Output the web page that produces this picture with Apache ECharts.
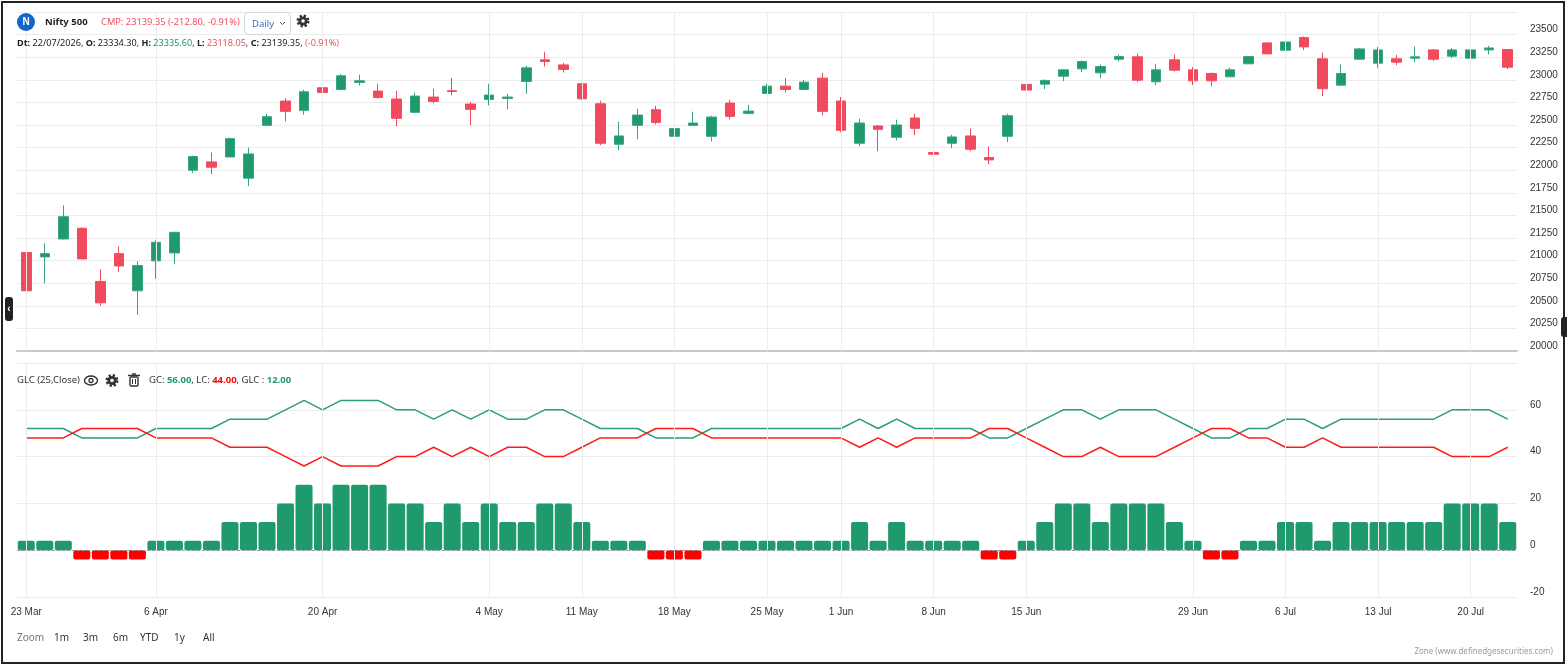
<!DOCTYPE html>
<html>
<head>
<meta charset="utf-8">
<script src="https://cdn.jsdelivr.net/npm/echarts@6/dist/echarts.min.js"></script>
<style>
html,body{margin:0;padding:0;background:#fff;}
#chart{width:1567px;height:666px;}
</style>
</head>
<body>
<div id="chart"></div>
<script>
// ---------- DATA ----------
const dates = ['23 Mar','24 Mar','25 Mar','27 Mar','30 Mar','1 Apr','2 Apr',
  '6 Apr','7 Apr','8 Apr','9 Apr','10 Apr','13 Apr','15 Apr','16 Apr','17 Apr',
  '20 Apr','21 Apr','22 Apr','23 Apr','24 Apr','27 Apr','28 Apr','29 Apr','30 Apr',
  '4 May','5 May','6 May','7 May','8 May','11 May','12 May','13 May','14 May','15 May',
  '18 May','19 May','20 May','21 May','22 May','25 May','26 May','28 May','29 May',
  '1 Jun','2 Jun','3 Jun','4 Jun','5 Jun','8 Jun','9 Jun','10 Jun','11 Jun','12 Jun',
  '15 Jun','16 Jun','17 Jun','18 Jun','19 Jun','22 Jun','23 Jun','24 Jun','25 Jun',
  '29 Jun','30 Jun','1 Jul','2 Jul','3 Jul','6 Jul','7 Jul','8 Jul','9 Jul','10 Jul',
  '13 Jul','14 Jul','15 Jul','16 Jul','17 Jul','20 Jul','21 Jul','22 Jul'];

const tickLabels = ['23 Mar','6 Apr','20 Apr','4 May','11 May','18 May','25 May',
  '1 Jun','8 Jun','15 Jun','29 Jun','6 Jul','13 Jul','20 Jul'];

const opens  = [21089,21041,21239,21357,20769,21077,20666,20997,21085,22000,22092,22147,21912,22496,22765,22662,22912,22893,22971,22875,22787,22640,22809,22879,22732,22783,22794,22982,23221,23165,22956,22735,22287,22496,22669,22375,22496,22375,22743,22629,22849,22930,22893,23018,22765,22298,22489,22364,22577,22195,22298,22379,22140,22375,22949,22952,23040,23121,23077,23228,23254,22978,23221,23110,23070,23033,23177,23408,23327,23467,23232,22941,23228,23184,23232,23239,23331,23261,23239,23331,23334.30];
const closes = [20666,21077,21486,21019,20533,20941,20945,21202,21313,22151,22033,22349,22180,22592,22651,22868,22860,23044,22989,22805,22574,22820,22761,22871,22673,22831,22809,23132,23202,23114,22790,22298,22379,22610,22529,22460,22522,22588,22596,22654,22930,22893,22974,22651,22441,22522,22452,22500,22463,22177,22368,22232,22114,22603,22886,22993,23110,23202,23147,23257,22996,23110,23107,22989,22989,23110,23257,23287,23419,23364,22901,23070,23342,23331,23195,23254,23228,23331,23331,23352.15,23139.35];
const lows   = [20622,20750,21235,21015,20500,20875,20401,20798,20964,21967,21956,22145,21824,22494,22540,22614,22717,22890,22938,22794,22485,22638,22739,22827,22496,22717,22673,22846,23147,23081,22779,22276,22221,22342,22507,22155,22494,22320,22563,22618,22846,22860,22890,22607,22419,22265,22210,22331,22386,22133,22243,22210,22066,22309,22853,22897,22985,23085,23018,23206,22974,22941,23092,22941,22930,23030,23175,23285,23316,23327,22820,22938,23225,23129,23162,23195,23206,23239,23217,23283,23118.05];
const highs  = [21095,21191,21610,21368,20905,21158,20993,21225,21315,22162,22195,22360,22250,22621,22798,22890,22985,23066,23055,22956,22879,22857,22901,23022,22754,22956,22846,23154,23309,23187,22967,22768,22537,22680,22713,22493,22647,22603,22779,22724,22956,23022,23000,23077,22809,22570,22500,22559,22625,22360,22393,22460,22261,22625,23015,23004,23112,23213,23169,23279,23290,23177,23279,23140,23081,23132,23265,23410,23441,23478,23301,23169,23353,23364,23276,23368,23342,23353,23353,23375,23335.60];

const gcValues  = [52,52,52,48,48,48,48,52,52,52,52,56,56,56,60,64,60,64,64,64,60,60,56,60,56,60,56,56,60,60,56,52,52,52,48,48,48,52,52,52,52,52,52,52,52,56,52,56,52,52,52,52,48,48,52,56,60,60,56,60,60,60,56,52,48,48,52,52,56,56,52,56,56,56,56,56,56,60,60,60,56];
const lcValues  = [48,48,48,52,52,52,52,48,48,48,48,44,44,44,40,36,40,36,36,36,40,40,44,40,44,40,44,44,40,40,44,48,48,48,52,52,52,48,48,48,48,48,48,48,48,44,48,44,48,48,48,48,52,52,48,44,40,40,44,40,40,40,44,48,52,52,48,48,44,44,48,44,44,44,44,44,44,40,40,40,44];
const glcValues = [4,4,4,-4,-4,-4,-4,4,4,4,4,12,12,12,20,28,20,28,28,28,20,20,12,20,12,20,12,12,20,20,12,4,4,4,-4,-4,-4,4,4,4,4,4,4,4,4,12,4,12,4,4,4,4,-4,-4,4,12,20,20,12,20,20,20,12,4,-4,-4,4,4,12,12,4,12,12,12,12,12,12,20,20,20,12];

const priceTicks = {min: 20000, max: 23750, step: 250};
const glcTicks = {min: -20, max: 80, step: 20};

// ---------- CHART ----------
const GREEN = '#1f9a6c', RED = '#f24a5d', FONT = 'Liberation Sans, Arial, sans-serif';
const candleData = dates.map((d, i) => [opens[i], closes[i], lows[i], highs[i]]);
const isTick = (idx) => tickLabels.indexOf(dates[idx]) >= 0;
const vLines = tickLabels.map(d => ({xAxis: d}));

const chart = echarts.init(document.getElementById('chart'), null, {renderer: 'canvas'});

const gear = (cx, cy) => [
  {type:'circle', shape:{cx, cy, r:5.2}, style:{fill:'none', stroke:'#333', lineWidth:2.6, lineDash:[2.2,1.9]}, z:10},
  {type:'circle', shape:{cx, cy, r:4.6}, style:{fill:'#333'}, z:11},
  {type:'circle', shape:{cx, cy, r:1.8}, style:{fill:'#fff'}, z:12}
];
const HF = 'Noto Sans, sans-serif';

chart.setOption({
  animation: false,
  textStyle: {fontFamily: FONT},
  grid: [
    {left: 17, width: 1500, top: 12, height: 339},
    {left: 17, width: 1500, top: 363, height: 234}
  ],
  xAxis: [
    {type:'category', gridIndex:0, data:dates, boundaryGap:true,
     axisLine:{show:true, lineStyle:{color:'#c9c9c9', width:2}},
     axisTick:{show:false}, axisLabel:{show:false}, splitLine:{show:false}},
    {type:'category', gridIndex:1, data:dates, boundaryGap:true,
     axisLine:{show:true, lineStyle:{color:'#e6e6e6', width:1}},
     axisTick:{show:true, alignWithLabel:true, length:6, lineStyle:{color:'#555'}, interval:(i)=>isTick(i)},
     axisLabel:{interval:(i)=>isTick(i), color:'#333', fontSize:10, margin:10, fontFamily:FONT},
     splitLine:{show:false}}
  ],
  yAxis: [
    {type:'value', gridIndex:0, position:'right', min:priceTicks.min, max:priceTicks.max, interval:priceTicks.step,
     axisLine:{show:false}, axisTick:{show:false},
     axisLabel:{showMaxLabel:false, color:'#333', fontSize:10, margin:13, verticalAlign:'bottom', lineHeight:10, fontFamily:FONT,
       formatter:(v)=>String(v)},
     splitLine:{lineStyle:{color:'#ececec', width:1}}},
    {type:'value', gridIndex:1, position:'right', min:glcTicks.min, max:glcTicks.max, interval:glcTicks.step,
     axisLine:{show:false}, axisTick:{show:false},
     axisLabel:{showMaxLabel:false, color:'#333', fontSize:10, margin:13, verticalAlign:'bottom', lineHeight:10, fontFamily:FONT,
       formatter:(v)=>String(v)},
     splitLine:{lineStyle:{color:'#ececec', width:1}}}
  ],
  series: [
    {type:'candlestick', xAxisIndex:0, yAxisIndex:0, data:candleData, barWidth:10,
     itemStyle:{color:GREEN, color0:RED, borderColor:'#35a67d', borderColor0:RED, borderWidth:1},
     markLine:{silent:true, symbol:'none', label:{show:false}, animation:false,
       lineStyle:{color:'#ececec', type:'solid', width:1}, data:vLines},
     z:3},
    {type:'bar', xAxisIndex:1, yAxisIndex:1, data:glcValues, barCategoryGap:'8%',
     itemStyle:{color:(p)=>p.value >= 0 ? GREEN : '#ff0000', borderRadius:2},
     markLine:{silent:true, symbol:'none', label:{show:false}, animation:false,
       data:[...vLines.map(v=>({xAxis:v.xAxis, lineStyle:{color:'#ececec', type:'solid', width:1}})),
             {yAxis:0, lineStyle:{color:'#9a9a9a', type:[3,2], width:1}}]},
     z:2},
    {type:'line', xAxisIndex:1, yAxisIndex:1, data:gcValues, symbol:'none',
     lineStyle:{color:'#2a9d74', width:1.5}, z:4},
    {type:'line', xAxisIndex:1, yAxisIndex:1, data:lcValues, symbol:'none',
     lineStyle:{color:'#ff1a1a', width:1.5}, z:4}
  ],
  graphic: [
    // frame
    {type:'rect', shape:{x:2, y:2, width:1562, height:661}, style:{fill:'none', stroke:'#222', lineWidth:2}, z:20},
    {type:'rect', shape:{x:5, y:297, width:8, height:24, r:3}, style:{fill:'#222'}, z:20},
    {type:'text', x:9, y:309, style:{text:'‹', fill:'#fff', font:'bold 10px '+FONT, align:'center', verticalAlign:'middle'}, z:21},
    {type:'rect', shape:{x:1561, y:317, width:8, height:20, r:3}, style:{fill:'#222'}, z:20},
    // header row 1
    {type:'circle', shape:{cx:26, cy:22, r:9}, style:{fill:'#1466c8'}, z:10},
    {type:'text', x:26, y:22.5, style:{text:'N', fill:'#fff', font:'bold 10px '+FONT, align:'center', verticalAlign:'middle'}, z:11},
    {type:'text', x:45, y:22, style:{text:'Nifty 500', fill:'#222', font:'bold 9.5px '+HF, verticalAlign:'middle'}, z:10},
    {type:'text', x:101, y:22, style:{text:'CMP: 23139.35 (-212.80, -0.91%)', fill:'#f0505f', font:'9.3px '+HF, verticalAlign:'middle'}, z:10},
    {type:'rect', shape:{x:244.5, y:12.5, width:46, height:22, r:4}, style:{fill:'#fff', stroke:'#d3d8de', lineWidth:1}, z:10},
    {type:'text', x:252, y:24, style:{text:'Daily', fill:'#3a6fb5', font:'9.5px '+HF, verticalAlign:'middle'}, z:11},
    {type:'polyline', shape:{points:[[280,22],[282.5,24.5],[285,22]]}, style:{stroke:'#555', lineWidth:1, fill:'none'}, z:11},
    ...gear(303, 21),
    // header row 2
    {type:'text', x:17, y:43, z:10, style:{
      text:'{b|Dt:} 22/07/2026, {b|O:} 23334.30, {b|H:} {g|23335.60}, {b|L:} {r|23118.05}, {b|C:} 23139.35, {r|(-0.91%)}',
      fill:'#222', font:'9.1px '+HF, verticalAlign:'middle',
      rich:{b:{fontWeight:'bold', fill:'#222', fontSize:9.1, fontFamily:'Noto Sans'},
            g:{fill:'#1f9a6c', fontSize:9.1, fontFamily:'Noto Sans'},
            r:{fill:'#f0505f', fontSize:9.1, fontFamily:'Noto Sans'}}}},
    // indicator header
    {type:'text', x:17, y:380, style:{text:'GLC (25,Close)', fill:'#333', font:'9.5px '+HF, verticalAlign:'middle'}, z:10},
    {type:'ellipse', shape:{cx:91, cy:380.5, rx:6.5, ry:4.5}, style:{fill:'none', stroke:'#333', lineWidth:1.4}, z:10},
    {type:'circle', shape:{cx:91, cy:380.5, r:2}, style:{fill:'none', stroke:'#333', lineWidth:1.3}, z:10},
    ...gear(112, 380.5),
    {type:'rect', shape:{x:130, y:377, width:8, height:9, r:1}, style:{fill:'none', stroke:'#333', lineWidth:1.4}, z:10},
    {type:'line', shape:{x1:128, y1:375.5, x2:140, y2:375.5}, style:{stroke:'#333', lineWidth:1.5}, z:10},
    {type:'line', shape:{x1:132, y1:374, x2:136, y2:374}, style:{stroke:'#333', lineWidth:1.5}, z:10},
    {type:'line', shape:{x1:132.5, y1:379, x2:132.5, y2:384}, style:{stroke:'#333', lineWidth:1}, z:10},
    {type:'line', shape:{x1:135.5, y1:379, x2:135.5, y2:384}, style:{stroke:'#333', lineWidth:1}, z:10},
    {type:'text', x:149, y:380, z:10, style:{
      text:'GC: {g|56.00}, LC: {r|44.00}, GLC : {g|12.00}',
      fill:'#333', font:'9.5px '+HF, verticalAlign:'middle',
      rich:{g:{fill:'#1f9a6c', fontWeight:'bold', fontSize:9.5, fontFamily:'Noto Sans'},
            r:{fill:'#ff0000', fontWeight:'bold', fontSize:9.5, fontFamily:'Noto Sans'}}}},
    // zoom row
    {type:'text', x:17, y:638, style:{text:'Zoom', fill:'#777', font:'10px '+HF, verticalAlign:'middle'}, z:10},
    {type:'text', x:54, y:638, style:{text:'1m', fill:'#333', font:'10px '+HF, verticalAlign:'middle'}, z:10},
    {type:'text', x:83, y:638, style:{text:'3m', fill:'#333', font:'10px '+HF, verticalAlign:'middle'}, z:10},
    {type:'text', x:113, y:638, style:{text:'6m', fill:'#333', font:'10px '+HF, verticalAlign:'middle'}, z:10},
    {type:'text', x:140, y:638, style:{text:'YTD', fill:'#333', font:'10px '+HF, verticalAlign:'middle'}, z:10},
    {type:'text', x:174, y:638, style:{text:'1y', fill:'#333', font:'10px '+HF, verticalAlign:'middle'}, z:10},
    {type:'text', x:203, y:638, style:{text:'All', fill:'#333', font:'10px '+HF, verticalAlign:'middle'}, z:10},
    // credit
    {type:'text', x:1553, y:652, style:{text:'Zone (www.definedgesecurities.com)', fill:'#9a9a9a', font:'8px '+HF, align:'right', verticalAlign:'middle'}, z:10}
  ]
});
</script>
</body>
</html>
